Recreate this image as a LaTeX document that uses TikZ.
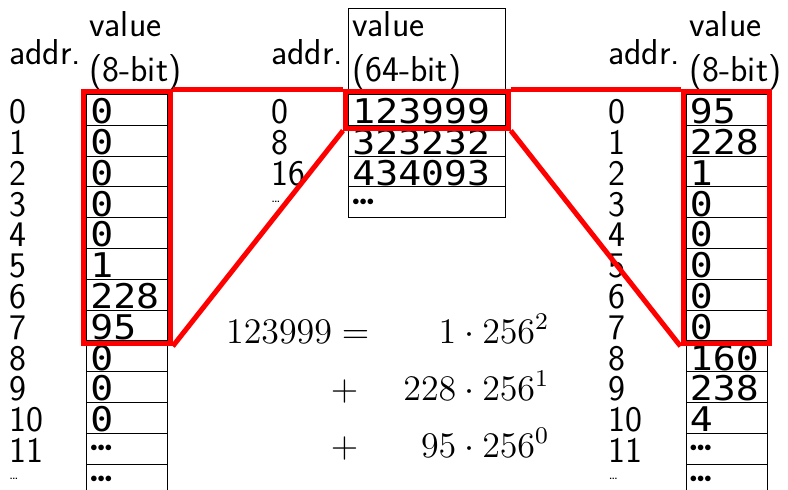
\documentclass[tikz,border=0pt]{standalone}
\usepackage{fontspec}
\usetikzlibrary{fit}
\newfontfamily\monofont[FakeStretch=1.12]{DejaVu Sans Mono}
\newcommand\valfont{\monofont\fontsize{34}{34}\selectfont}
\newcommand\txtfont{\sffamily\fontsize{36}{45}\selectfont}
\newcommand\adots{\raisebox{14pt}{\fontsize{16}{16}\selectfont\ldots}}
\newcommand\celldots{\raisebox{11pt}{\fontsize{14.4}{14.4}\selectfont${\bullet}{\bullet}{\bullet}$}}
\tikzset{
  cell/.style={draw,line width=0.8pt,anchor=north west,inner xsep=4pt,inner ysep=1.5pt,
    text width=73pt,text height=27.8pt,text depth=0pt,align=left,font=\valfont},
  widecell/.style={cell,text width=149pt},
  addrlabel/.style={anchor=base west,inner sep=0pt,font=\txtfont},
  hdrlabel/.style={anchor=base west,inner sep=0pt,align=left,font=\txtfont},
  selbox/.style={draw=red,line width=5pt,inner sep=2.5pt},
  selline/.style={red,line width=5pt},
  eqpart/.style={anchor=base east,inner sep=0pt,font=\fontsize{12}{14}\selectfont,scale=3}
}
\begin{document}
\begin{tikzpicture}[x=1pt,y=-1pt]
\useasboundingbox (0,0) rectangle (788,490);
\node[hdrlabel] (addrA) at (9,64) {addr.};
\node[hdrlabel] (valA) at (89,81) {value\\(8-bit)};
\node[hdrlabel] (addrM) at (271,64) {addr.};
\node[hdrlabel] (valM) at (352,81) {value\\(64-bit)};
\node[hdrlabel] (addrB) at (608,64) {addr.};
\node[hdrlabel] (valB) at (689,81) {value\\(8-bit)};
\foreach \v [count=\n from 0] in {0,0,0,0,0,1,228,95,0,0,0,\celldots,\celldots}
  \node[cell] (a\n) at (86,94+30.8*\n) {\v};
\foreach \t [count=\n from 0] in {0,1,2,3,4,5,6,7,8,9,10,11,\adots}
  \node[addrlabel] (la\n) at ([xshift=-77pt]a\n.base west) {\t};
\foreach \v [count=\n from 0] in {123999,323232,434093,\celldots}
  \node[widecell] (m\n) at (348,94+30.8*\n) {\v};
\foreach \t [count=\n from 0] in {0,8,16,\adots}
  \node[addrlabel] (lm\n) at ([xshift=-77pt]m\n.base west) {\t};
\draw[line width=0.8pt] (m0.north west) -- ++(0,-86) -| (m0.north east);
\foreach \v [count=\n from 0] in {95,228,1,0,0,0,0,0,160,238,4,\celldots,\celldots}
  \node[cell] (b\n) at (685.5,94+30.8*\n) {\v};
\foreach \t [count=\n from 0] in {0,1,2,3,4,5,6,7,8,9,10,11,\adots}
  \node[addrlabel] (lb\n) at ([xshift=-77pt]b\n.base west) {\t};
\node[selbox,fit=(a0)(a7)] (selA) {};
\node[selbox,fit=(m0)] (selM) {};
\node[selbox,fit=(b0)(b7)] (selB) {};
\draw[selline] (selA.north east) -- (selM.north west);
\draw[selline] (selA.south east) -- (selM.south west);
\draw[selline] (selM.north east) -- (selB.north west);
\draw[selline] (selM.south east) -- (selB.south west);
\node[eqpart] (eqlhs) at (370,343) {$123999 =$};
\node[eqpart] (eqtwo) at (550,343) {$1\cdot 256^2$};
\node[eqpart] (plusone) at (359,400) {$+$};
\node[eqpart] (eqone) at (550,400) {$228\cdot 256^1$};
\node[eqpart] (pluszero) at (359,457) {$+$};
\node[eqpart] (eqzero) at (550,457) {$95\cdot 256^0$};
\end{tikzpicture}
\end{document}
